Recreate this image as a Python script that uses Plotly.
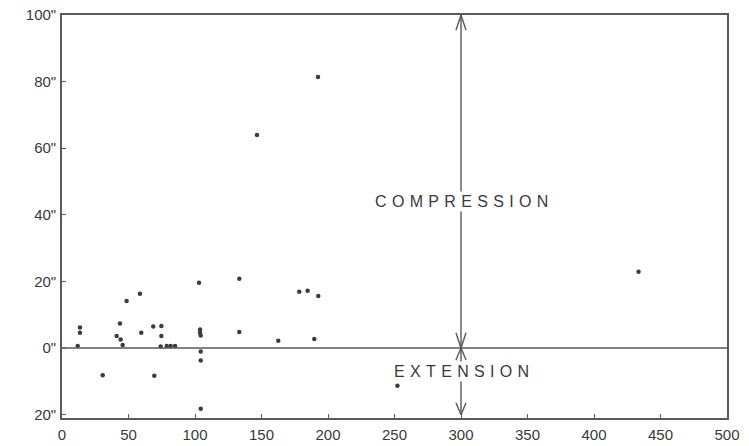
import plotly.graph_objects as go

# Observed values: horizontal quantity (0-500) vs. angular offset (seconds of arc)
x_vals = [192.5, 146.6, 433.5, 252.2,
          11.8, 13.5, 13.5, 30.6, 43.6, 41.1, 44.1, 45.6, 48.6, 58.6, 59.6,
          68.6, 69.4, 74.7, 74.7, 74.2, 78.7, 81.7, 85.0,
          103.0, 103.8, 103.8, 104.3, 104.3, 104.3, 104.3,
          133.3, 133.3, 162.6, 178.4, 184.7, 192.7, 189.7]
y_vals = [81.4, 64.0, 22.9, -11.3,
          0.6, 6.2, 4.6, -8.2, 7.4, 3.6, 2.6, 0.9, 14.1, 16.3, 4.6,
          6.5, -8.3, 6.6, 3.6, 0.5, 0.6, 0.6, 0.6,
          19.6, 5.6, 4.6, 3.8, -1.0, -3.7, -18.2,
          20.8, 4.8, 2.2, 16.9, 17.2, 15.6, 2.7]

x_ticks = [0, 50, 100, 150, 200, 250, 300, 350, 400, 450, 500]
y_ticks = [-20, 0, 20, 40, 60, 80, 100]
y_tick_text = ['20"', '0"', '20"', '40"', '60"', '80"', '100"']

X_MIN, X_MAX = 0, 500
Y_MIN, Y_MAX = -20, 100
ARROW_X = 300
LINE_COLOR = "#5a5a5a"
TEXT_COLOR = "#3a3a3a"

fig = go.Figure()

fig.add_trace(go.Scatter(
    x=x_vals, y=y_vals, mode="markers",
    marker=dict(size=4.5, color="#3c3c3c"),
    showlegend=False, hoverinfo="x+y",
))

# vertical double arrows at ARROW_X marking compression / extension ranges
def arrow_segment(y0, y1):
    return dict(type="line", x0=ARROW_X, x1=ARROW_X, y0=y0, y1=y1,
                line=dict(color=LINE_COLOR, width=1.4))

def chevron(y_tip, direction, hw=3.8, h=4.6):
    # open V-shaped arrowhead; direction +1 points up, -1 points down
    yb = y_tip - direction * h
    return go.Scatter(
        x=[ARROW_X - hw, ARROW_X, ARROW_X + hw],
        y=[yb, y_tip, yb], mode="lines",
        line=dict(color=LINE_COLOR, width=1.4),
        showlegend=False, hoverinfo="skip",
    )

shapes = [
    arrow_segment(0, Y_MAX),
    arrow_segment(Y_MIN, 0),
    # horizontal zero line
    dict(type="line", x0=X_MIN, x1=X_MAX, y0=0, y1=0,
         line=dict(color=LINE_COLOR, width=1.6)),
]

fig.add_trace(chevron(Y_MAX, +1))
fig.add_trace(chevron(0, -1))
fig.add_trace(chevron(0, +1, h=3.6))
fig.add_trace(chevron(Y_MIN, -1, h=3.6))

sp = "\u2004"
fig.add_annotation(x=ARROW_X, y=44, text=sp.join("COMPRESSION"),
                   showarrow=False, bgcolor="white",
                   font=dict(family="Liberation Sans", size=16, color=TEXT_COLOR))
fig.add_annotation(x=ARROW_X, y=-6.9, text=sp.join("EXTENSION"),
                   showarrow=False, bgcolor="white",
                   font=dict(family="Liberation Sans", size=16, color=TEXT_COLOR))

fig.update_layout(
    width=749, height=446,
    margin=dict(l=62, r=22, t=15, b=28),
    paper_bgcolor="white", plot_bgcolor="white",
    shapes=shapes,
    font=dict(family="Liberation Sans", size=15, color=TEXT_COLOR),
    xaxis=dict(range=[X_MIN, X_MAX], tickvals=x_ticks, automargin=False,
               showgrid=False, zeroline=False,
               showline=True, mirror=True, linecolor=LINE_COLOR, linewidth=1.6,
               ticks="inside", ticklen=4, tickcolor=LINE_COLOR, ticklabelstandoff=2),
    yaxis=dict(range=[Y_MIN - 1, Y_MAX], tickvals=y_ticks, ticktext=y_tick_text,
               automargin=False, showgrid=False, zeroline=False,
               showline=True, mirror=True, linecolor=LINE_COLOR, linewidth=1.6,
               ticks="inside", ticklen=4, tickcolor=LINE_COLOR, ticklabelstandoff=1),
)

fig.write_html("out.html")
